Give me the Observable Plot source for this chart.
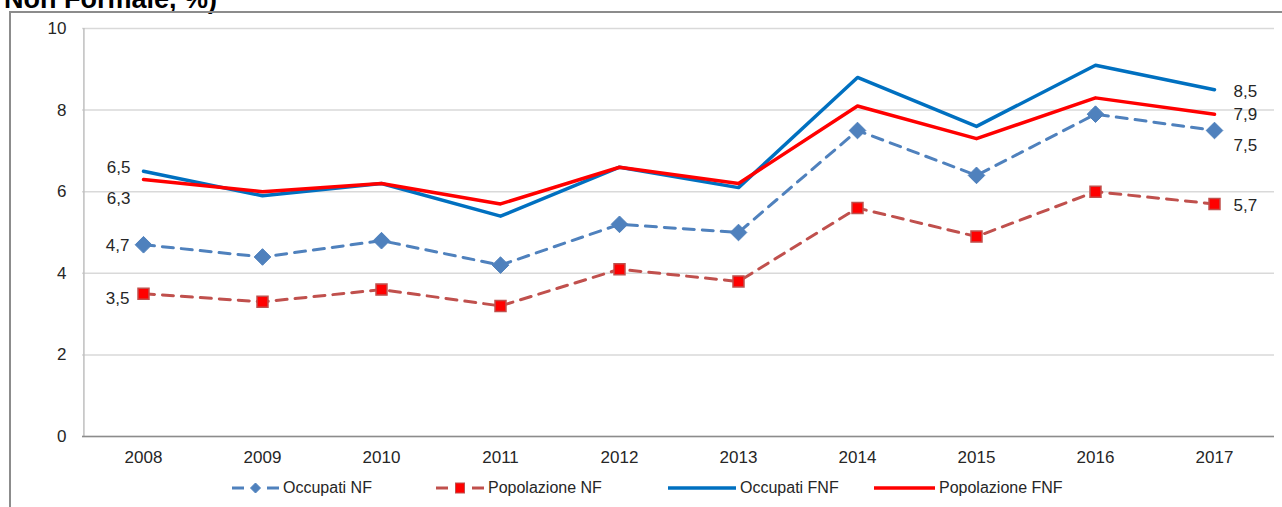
<!DOCTYPE html>
<html>
<head>
<meta charset="utf-8">
<script src="https://cdn.jsdelivr.net/npm/d3@7"></script>
<script src="https://cdn.jsdelivr.net/npm/@observablehq/plot@0.6"></script>
<style>
  html, body { margin: 0; padding: 0; background: #fff; }
  #wrap { position: relative; width: 1282px; height: 507px; overflow: hidden; font-family: "Liberation Sans", Arial, sans-serif; }
  #title { position: absolute; left: 4px; top: -14px; font-size: 27px; font-weight: bold; line-height: 1; color: #000; white-space: nowrap; }
  #frameL { position: absolute; left: 9px; top: 11px; width: 2px; height: 520px; background: #8c8c8c; }
  #frameT { position: absolute; left: 9px; top: 11px; width: 1300px; height: 2px; background: #8c8c8c; }
  #chart { position: absolute; left: 0; top: 0; }
  #legend { position: absolute; left: 0; top: 478px; width: 1282px; height: 20px; font-size: 16px; color: #262626; }
  .item { position: absolute; top: 0; display: flex; align-items: center; height: 20px; }
  .item span { margin-left: 4px; }
</style>
</head>
<body>
<div id="wrap">
  <div id="title">Non Formale, %)</div>
  <div id="frameL"></div>
  <div id="frameT"></div>
  <div id="chart"></div>
  <div id="legend"></div>
</div>
<script>
const years = ["2008","2009","2010","2011","2012","2013","2014","2015","2016","2017"];
const occupatiNF     = [4.7, 4.4, 4.8, 4.2, 5.2, 5.0, 7.5, 6.4, 7.9, 7.5];
const popolazioneNF  = [3.5, 3.3, 3.6, 3.2, 4.1, 3.8, 5.6, 4.9, 6.0, 5.7];
const occupatiFNF    = [6.5, 5.9, 6.2, 5.4, 6.6, 6.1, 8.8, 7.6, 9.1, 8.5];
const popolazioneFNF = [6.3, 6.0, 6.2, 5.7, 6.6, 6.2, 8.1, 7.3, 8.3, 7.9];
const yTicks = [0, 2, 4, 6, 8, 10];
const seriesNames = ["Occupati NF", "Popolazione NF", "Occupati FNF", "Popolazione FNF"];

const rows = (vals) => years.map((y, i) => ({year: y, value: vals[i]}));
const dOccNF = rows(occupatiNF);
const dPopNF = rows(popolazioneNF);
const dOccFNF = rows(occupatiFNF);
const dPopFNF = rows(popolazioneFNF);

const fmt = v => d3.format(".1f")(v).replace(".", ",");
const first = arr => [arr[0]];
const last = arr => [arr[arr.length - 1]];

const cBlueDash = "#4f81bd";
const cRedDash = "#c0504d";
const cBlue = "#0070c0";
const cRed = "#ff0000";
const textCol = "#262626";

const labelStyle = {fontSize: 17, fill: textCol, fontFamily: "Liberation Sans, Arial, sans-serif"};

const plot = Plot.plot({
  width: 1282,
  height: 480,
  marginLeft: 82,
  marginRight: 8,
  marginTop: 28,
  marginBottom: 44,
  style: {fontFamily: "Liberation Sans, Arial, sans-serif", fontSize: "17px", color: textCol, background: "transparent", overflow: "visible"},
  x: {type: "point", domain: years, padding: 0.5, label: null},
  y: {domain: [0, 10], label: null},
  marks: [
    Plot.gridY(yTicks, {stroke: "#d9d9d9", strokeOpacity: 1, strokeWidth: 1.5}),
    Plot.axisY(yTicks, {tickSize: 0, tickPadding: 16, fontSize: 17, fill: textCol}),
    Plot.axisX({tickSize: 0, tickPadding: 14, fontSize: 17, fill: textCol}),
    Plot.ruleX([years[0]], {dx: -59.6, stroke: "#bfbfbf", strokeWidth: 1.5}),
    Plot.ruleY([0], {stroke: "#8c8c8c", strokeWidth: 1.5}),
    // dashed NF series
    Plot.line(dOccNF, {x: "year", y: "value", stroke: cBlueDash, strokeWidth: 3, strokeDasharray: "11,8"}),
    Plot.dot(dOccNF, {x: "year", y: "value", symbol: "diamond2", r: 7.5, fill: cBlueDash, stroke: cBlueDash, strokeWidth: 1}),
    Plot.line(dPopNF, {x: "year", y: "value", stroke: cRedDash, strokeWidth: 3, strokeDasharray: "11,8"}),
    Plot.dot(dPopNF, {x: "year", y: "value", symbol: "square2", r: 7, fill: cRed, stroke: cRedDash, strokeWidth: 1.5}),
    // solid FNF series
    Plot.line(dOccFNF, {x: "year", y: "value", stroke: cBlue, strokeWidth: 3.5}),
    Plot.line(dPopFNF, {x: "year", y: "value", stroke: cRed, strokeWidth: 3.5}),
    // first-year labels
    Plot.text(first(dOccFNF), {x: "year", y: "value", text: d => fmt(d.value), dx: -13, dy: -4, textAnchor: "end", ...labelStyle}),
    Plot.text(first(dPopFNF), {x: "year", y: "value", text: d => fmt(d.value), dx: -13, dy: 19, textAnchor: "end", ...labelStyle}),
    Plot.text(first(dOccNF), {x: "year", y: "value", text: d => fmt(d.value), dx: -14, dy: 1, textAnchor: "end", ...labelStyle}),
    Plot.text(first(dPopNF), {x: "year", y: "value", text: d => fmt(d.value), dx: -14, dy: 5, textAnchor: "end", ...labelStyle}),
    // last-year labels
    Plot.text(last(dOccFNF), {x: "year", y: "value", text: d => fmt(d.value), dx: 19, dy: 2, textAnchor: "start", ...labelStyle}),
    Plot.text(last(dPopFNF), {x: "year", y: "value", text: d => fmt(d.value), dx: 19, dy: 0, textAnchor: "start", ...labelStyle}),
    Plot.text(last(dOccNF), {x: "year", y: "value", text: d => fmt(d.value), dx: 19, dy: 15, textAnchor: "start", ...labelStyle}),
    Plot.text(last(dPopNF), {x: "year", y: "value", text: d => fmt(d.value), dx: 19, dy: 2, textAnchor: "start", ...labelStyle})
  ]
});
document.getElementById("chart").appendChild(plot);

// legend
const legendItems = [
  {name: seriesNames[0], left: 232, color: cBlueDash, dash: true, marker: "diamond", mfill: cBlueDash, mstroke: cBlueDash, w: 47},
  {name: seriesNames[1], left: 436, color: cRedDash, dash: true, marker: "square", mfill: cRed, mstroke: cRedDash, w: 48},
  {name: seriesNames[2], left: 668, color: cBlue, dash: false, w: 68},
  {name: seriesNames[3], left: 874, color: cRed, dash: false, w: 61}
];
const legend = document.getElementById("legend");
for (const it of legendItems) {
  const div = document.createElement("div");
  div.className = "item";
  div.style.left = it.left + "px";
  const w = it.w, h = 20, cy = 10;
  let svg = `<svg width="${w}" height="${h}">`;
  if (it.dash) {
    svg += `<line x1="0" x2="12" y1="${cy}" y2="${cy}" stroke="${it.color}" stroke-width="3"/>`;
    svg += `<line x1="${w-12}" x2="${w}" y1="${cy}" y2="${cy}" stroke="${it.color}" stroke-width="3"/>`;
    const mx = w / 2;
    if (it.marker === "diamond") {
      svg += `<path d="M${mx},${cy-5}L${mx+5},${cy}L${mx},${cy+5}L${mx-5},${cy}Z" fill="${it.mfill}" stroke="${it.mstroke}"/>`;
    } else {
      svg += `<rect x="${mx-4.5}" y="${cy-5}" width="9" height="10" fill="${it.mfill}" stroke="${it.mstroke}" stroke-width="1"/>`;
    }
  } else {
    svg += `<line x1="0" x2="${w}" y1="${cy}" y2="${cy}" stroke="${it.color}" stroke-width="3.5"/>`;
  }
  svg += `</svg>`;
  div.innerHTML = svg + `<span>${it.name}</span>`;
  legend.appendChild(div);
}
</script>
</body>
</html>
